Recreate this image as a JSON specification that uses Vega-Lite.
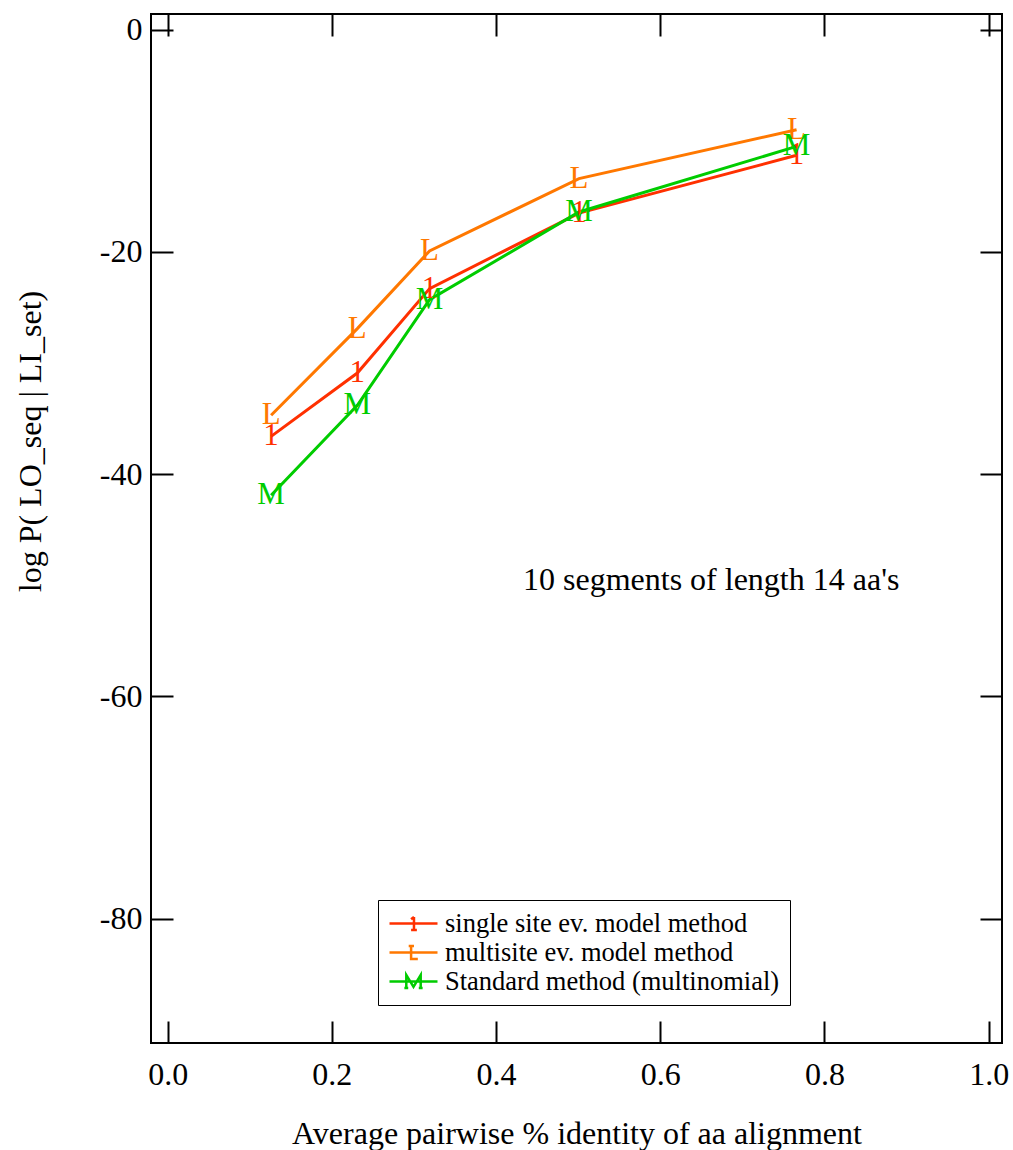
{
  "$schema": "https://vega.github.io/schema/vega-lite/v6.json",
  "width": 851,
  "height": 1029,
  "autosize": {"type": "none"},
  "padding": {"left": 151, "top": 14, "right": 11, "bottom": 107},
  "background": "white",
  "config": {
    "view": {"stroke": "black", "strokeWidth": 2},
    "font": "Liberation Serif",
    "axis": {
      "domain": false,
      "grid": false,
      "tickColor": "black",
      "tickWidth": 2,
      "tickSize": -22,
      "labelColor": "black",
      "labelFont": "Liberation Serif",
      "labelFontSize": 32,
      "titleFont": "Liberation Serif",
      "titleFontSize": 32,
      "titleFontWeight": "normal",
      "titleColor": "black"
    }
  },
  "datasets": {
    "curves": [
      {"series": "single site ev. model method", "identity": 0.126, "logp": -36.6},
      {"series": "single site ev. model method", "identity": 0.231, "logp": -30.9},
      {"series": "single site ev. model method", "identity": 0.319, "logp": -23.3},
      {"series": "single site ev. model method", "identity": 0.501, "logp": -16.5},
      {"series": "single site ev. model method", "identity": 0.766, "logp": -11.3},
      {"series": "multisite ev. model method", "identity": 0.126, "logp": -34.7},
      {"series": "multisite ev. model method", "identity": 0.231, "logp": -26.9},
      {"series": "multisite ev. model method", "identity": 0.319, "logp": -19.9},
      {"series": "multisite ev. model method", "identity": 0.501, "logp": -13.4},
      {"series": "multisite ev. model method", "identity": 0.766, "logp": -9.0},
      {"series": "Standard method (multinomial)", "identity": 0.126, "logp": -41.9},
      {"series": "Standard method (multinomial)", "identity": 0.231, "logp": -33.8},
      {"series": "Standard method (multinomial)", "identity": 0.319, "logp": -24.3},
      {"series": "Standard method (multinomial)", "identity": 0.501, "logp": -16.4},
      {"series": "Standard method (multinomial)", "identity": 0.766, "logp": -10.5}
    ]
  },
  "data": {"name": "curves"},
  "resolve": {"axis": {"x": "independent", "y": "independent"}},
  "layer": [
    {
      "transform": [{"filter": "datum.series == 'single site ev. model method'"}],
      "mark": {"type": "line", "strokeWidth": 3, "color": "#ff3000"},
      "encoding": {
        "x": {
          "field": "identity", "type": "quantitative",
          "scale": {"domain": [-0.0203, 1.0162], "nice": false, "zero": false},
          "axis": {
            "orient": "bottom",
            "values": [0, 0.2, 0.4, 0.6, 0.8, 1.0],
            "format": ".1f",
            "labelPadding": 38,
            "title": "Average pairwise % identity of aa alignment",
            "titlePadding": 28
          }
        },
        "y": {
          "field": "logp", "type": "quantitative",
          "scale": {"domain": [-91.2, 1.42], "nice": false, "zero": false},
          "axis": {
            "orient": "left",
            "values": [0, -20, -40, -60, -80],
            "labelExpr": "replace(datum.label, '\u2212', '-')",
            "labelPadding": 31,
            "title": "log P( LO_seq | LI_set)",
            "titleX": -121,
            "titleY": 427,
            "titleAlign": "center",
            "titleBaseline": "middle"
          }
        }
      }
    },
    {
      "transform": [{"filter": "datum.series == 'multisite ev. model method'"}],
      "mark": {"type": "line", "strokeWidth": 3, "color": "#ff7800"},
      "encoding": {
        "x": {"field": "identity", "type": "quantitative",
              "axis": {"orient": "top", "values": [0, 0.2, 0.4, 0.6, 0.8, 1.0], "labels": false, "title": null}},
        "y": {"field": "logp", "type": "quantitative",
              "axis": {"orient": "right", "values": [0, -20, -40, -60, -80], "labels": false, "title": null}}
      }
    },
    {
      "transform": [{"filter": "datum.series == 'Standard method (multinomial)'"}],
      "mark": {"type": "line", "strokeWidth": 3, "color": "#00cc00"},
      "encoding": {
        "x": {"field": "identity", "type": "quantitative", "axis": null},
        "y": {"field": "logp", "type": "quantitative", "axis": null}
      }
    },
    {
      "transform": [{"filter": "datum.series == 'single site ev. model method'"}],
      "mark": {"type": "text", "text": "1", "fontSize": 31, "font": "Liberation Serif", "align": "center", "baseline": "middle", "color": "#ff3000"},
      "encoding": {
        "x": {"field": "identity", "type": "quantitative", "axis": null},
        "y": {"field": "logp", "type": "quantitative", "axis": null}
      }
    },
    {
      "transform": [{"filter": "datum.series == 'multisite ev. model method'"}],
      "mark": {"type": "text", "text": "L", "fontSize": 31, "font": "Liberation Serif", "align": "center", "baseline": "middle", "color": "#ff7800"},
      "encoding": {
        "x": {"field": "identity", "type": "quantitative", "axis": null},
        "y": {"field": "logp", "type": "quantitative", "axis": null}
      }
    },
    {
      "transform": [{"filter": "datum.series == 'Standard method (multinomial)'"}],
      "mark": {"type": "text", "text": "M", "fontSize": 31, "font": "Liberation Serif", "align": "center", "baseline": "middle", "color": "#00cc00"},
      "encoding": {
        "x": {"field": "identity", "type": "quantitative", "axis": null},
        "y": {"field": "logp", "type": "quantitative", "axis": null}
      }
    },
    {
      "mark": {"type": "point", "filled": false, "size": 0, "opacity": 1, "strokeWidth": 2.5},
      "encoding": {
        "x": {"field": "identity", "type": "quantitative", "axis": null},
        "y": {"field": "logp", "type": "quantitative", "axis": null},
        "color": {
          "field": "series", "type": "nominal",
          "scale": {
            "domain": ["single site ev. model method", "multisite ev. model method", "Standard method (multinomial)"],
            "range": ["#ff3000", "#ff7800", "#00cc00"]
          },
          "legend": {
            "title": null, "orient": "none", "legendX": 227, "legendY": 886,
            "direction": "vertical", "columns": 1,
            "labelFont": "Liberation Serif", "labelFontSize": 26.5, "labelColor": "black",
            "labelOffset": 30, "symbolSize": 576, "symbolStrokeWidth": 2.5,
            "rowPadding": 2, "padding": 10, "strokeColor": "black",
            "labelLimit": 500
          }
        },
        "shape": {
          "field": "series", "type": "nominal",
          "scale": {
            "domain": ["single site ev. model method", "multisite ev. model method", "Standard method (multinomial)"],
            "range": [
              "M-1,0H3M1.04,-0.55V0.55M1.04,-0.55L0.8,-0.35M0.8,0.55H1.28",
              "M-1,0H3M0.8,-0.55V0.55H1.36M0.6,-0.55H1.04",
              "M-1,0H3M0.4,0.55V-0.55L1,0.45L1.6,-0.55V0.55M0.24,0.55H0.56M1.44,0.55H1.76"
            ]
          },
          "legend": {
            "title": null, "orient": "none", "legendX": 227, "legendY": 886,
            "direction": "vertical", "columns": 1,
            "labelFont": "Liberation Serif", "labelFontSize": 26.5, "labelColor": "black",
            "labelOffset": 30, "symbolSize": 576, "symbolStrokeWidth": 2.5,
            "rowPadding": 2, "padding": 10, "strokeColor": "black",
            "labelLimit": 500
          }
        }
      }
    },
    {
      "data": {"values": [{"note": "10 segments of length 14 aa's"}]},
      "mark": {"type": "text", "fontSize": 32, "font": "Liberation Serif", "align": "center", "baseline": "middle", "color": "black"},
      "encoding": {
        "text": {"field": "note"},
        "x": {"datum": 0.662, "type": "quantitative", "axis": null},
        "y": {"datum": -49.5, "type": "quantitative", "axis": null}
      }
    }
  ]
}
